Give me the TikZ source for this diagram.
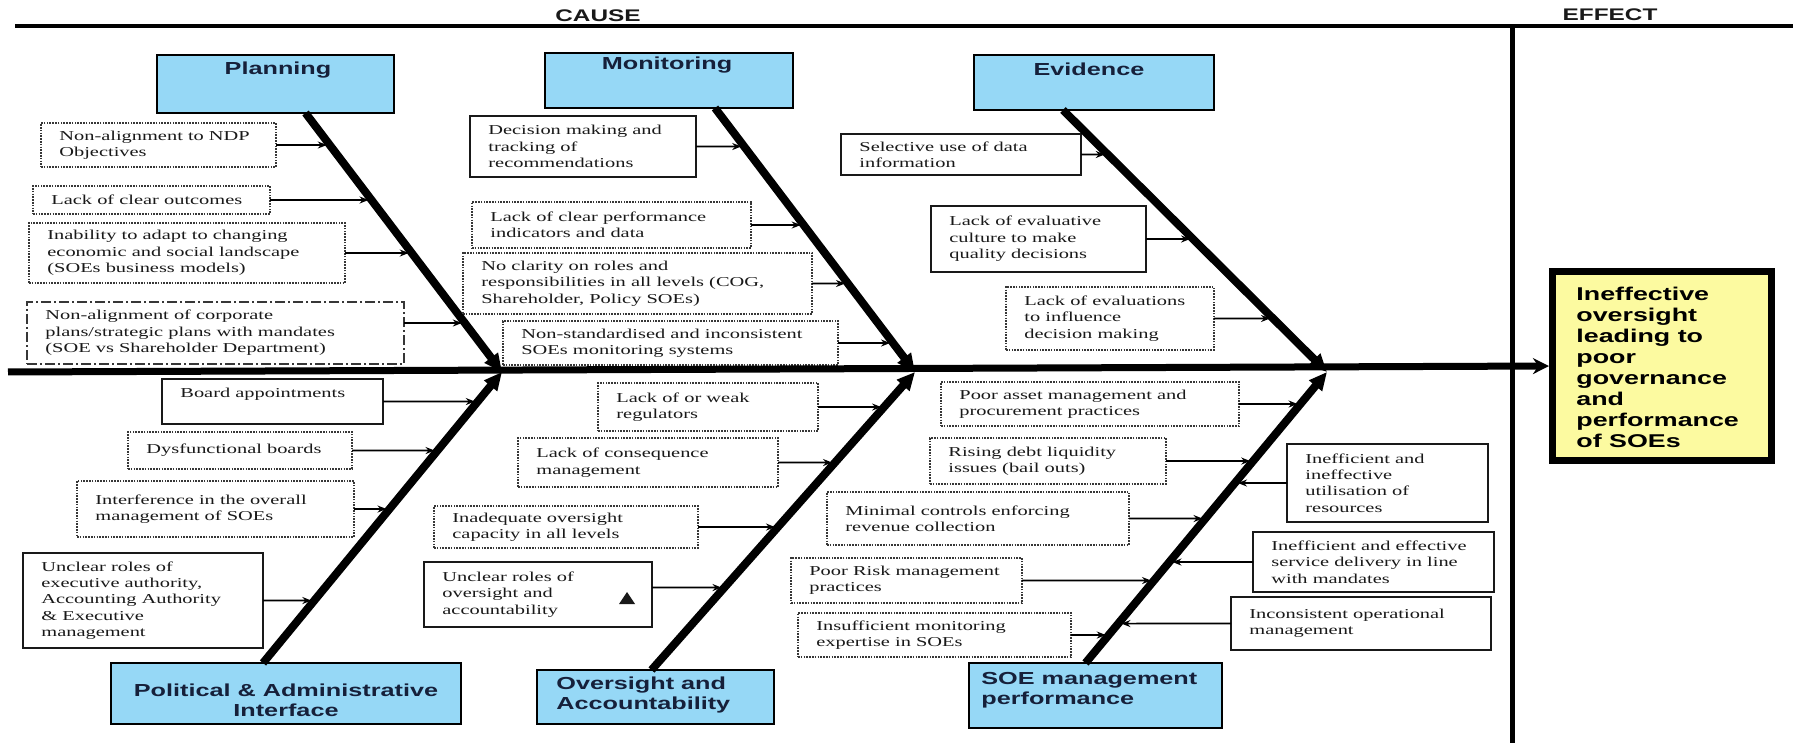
\documentclass[tikz,border=0pt]{standalone}
\usepackage{fontspec}
\setmainfont{Liberation Serif}[FakeStretch=1.5]
\newfontfamily\headfont{Liberation Sans}[FakeStretch=1.45]
\usetikzlibrary{arrows.meta,calc}

\definecolor{catblue}{RGB}{150,216,246}
\definecolor{effyellow}{RGB}{252,250,160}
\definecolor{catink}{RGB}{22,32,58}
\definecolor{boxink}{RGB}{25,25,25}
\definecolor{dotink}{RGB}{55,55,55}

\tikzset{
  itxt/.style={font=\fontsize{6.8pt}{8.2pt}\selectfont, text=boxink, align=left, inner sep=0pt},
  solidbox/.style={draw=boxink, line width=0.9pt, fill=white, inner sep=0pt, outer sep=0pt},
  dotbox/.style={draw=dotink, line width=1.1pt, dash pattern=on 0.8pt off 0.6pt, fill=white, inner sep=0pt, outer sep=0pt},
  dashbox/.style={draw=dotink, line width=1pt, dash pattern=on 5pt off 1.5pt on 1pt off 1.5pt, fill=white, inner sep=0pt, outer sep=0pt},
  catbox/.style={draw=black, line width=1.2pt, fill=catblue, inner sep=0pt, outer sep=0pt},
  effbox/.style={draw=black, line width=3.5pt, fill=effyellow, inner sep=0pt, outer sep=0pt},
  cattxt/.style={font=\headfont\bfseries\fontsize{8.7pt}{9.8pt}\selectfont, text=catink, align=left, inner sep=0pt},
  efftxt/.style={font=\headfont\bfseries\fontsize{9.25pt}{10.5pt}\selectfont, text=black, align=left, inner sep=0pt},
  hdr/.style={font=\headfont\bfseries\fontsize{8.4pt}{10pt}\selectfont, text=boxink, inner sep=0pt},
  bone/.style={line width=4pt, -{Triangle[length=9pt,width=8pt]}},
  feed/.style={line width=0.8pt, -{Stealth[length=4.5pt,width=3.5pt]}, shorten >=1.5pt},
  spine/.style={line width=3.5pt, -{Stealth[length=8pt,width=8pt]}, shorten >=1.5pt},
  frame/.style={line width=2pt},
}

% empty box given by its top-left and bottom-right corners (pixel units)
\newcommand\boxat[6]{%
  \pgfmathsetmacro\bw{(#4-#2)*0.5}%
  \pgfmathsetmacro\bh{(#5-#3)*0.5}%
  \node[#6, minimum width=\bw pt, minimum height=\bh pt, anchor=north west] (#1) at (#2,#3) {};}
% cause box with its left-aligned text
\newcommand\itembox[7]{%
  \boxat{#1}{#2}{#3}{#4}{#5}{#6}%
  \node[itxt, anchor=west] (#1t) at ([xshift=9pt]#1.west) {#7};}
% horizontal feeder from a box side to a bone
\newcommand\feedL[2]{\draw[feed] (#1.east) -- (intersection of #1.east--#1.west and #2);}
\newcommand\feedR[2]{\draw[feed] (#1.west) -- (intersection of #1.west--#1.east and #2);}

\begin{document}
\begin{tikzpicture}[x=0.5pt, y=-0.5pt]
\useasboundingbox (0,0) rectangle (1795,743);
\fill[white] (0,0) rectangle (1795,743);

% frame: header rule and cause/effect divider
\draw[frame] (15,26) -- (1793,26);
\draw[line width=2.5pt] (1512,26) -- (1512,743);
\node[hdr] (cause) at (598,16) {CAUSE};
\node[hdr] (effect) at (1610,15) {EFFECT};

% category boxes
\boxat{plan}{157}{55}{394}{113}{catbox}
\node[cattxt] (plant) at (278,70) {Planning};
\boxat{mon}{545}{53}{793}{108}{catbox}
\node[cattxt] (mont) at (667,65) {Monitoring};
\boxat{evid}{974}{55}{1214}{110}{catbox}
\node[cattxt] (evidt) at (1089,69) {Evidence};
\boxat{pol}{111}{663}{461}{724}{catbox}
\node[cattxt, align=center] (polt) at (286,700) {Political \& Administrative\\Interface};
\boxat{ovs}{537}{670}{774}{724}{catbox}
\node[cattxt, anchor=west] (ovst) at (556,695) {Oversight and\\Accountability};
\boxat{soe}{969}{663}{1222}{728}{catbox}
\node[cattxt, anchor=west] (soet) at (981,690) {SOE management\\performance};

% effect box
\boxat{eff}{1552}{272}{1771}{460}{effbox}
\node[efftxt, anchor=west] (efft) at (1576,367) {Ineffective\\oversight\\leading to\\poor\\governance\\and\\performance\\of SOEs};

% bone end points
\coordinate (j1) at (502,372);
\coordinate (j2) at (915,372);
\coordinate (j3) at (1327,372);
\coordinate (p1) at ([xshift=15pt]plan.south);
\coordinate (p2) at ([xshift=23pt]mon.south);
\coordinate (p3) at ([xshift=-15.5pt]evid.south);
\coordinate (q1) at ([xshift=-11.5pt]pol.north);
\coordinate (q2) at ([xshift=-2pt]ovs.north);
\coordinate (q3) at ([xshift=-5pt]soe.north);
\coordinate (s0) at (8,372);

% Planning causes
\itembox{a1}{41}{123}{276}{167}{dotbox}{Non-alignment to NDP\\Objectives}
\itembox{a2}{33}{186}{270}{214}{dotbox}{Lack of clear outcomes}
\itembox{a3}{29}{223}{345}{283}{dotbox}{Inability to adapt to changing\\economic and social landscape\\(SOEs business models)}
\itembox{a4}{27}{302}{404}{364}{dashbox}{Non-alignment of corporate\\plans/strategic plans with mandates\\(SOE vs Shareholder Department)}

% Political & Administrative causes
\boxat{b1}{162}{379}{383}{424}{solidbox}
\node[itxt, anchor=west] (b1t) at ([xshift=9pt,yshift=3.75pt]b1.west) {Board appointments};
\itembox{b2}{128}{432}{352}{469}{dotbox}{Dysfunctional boards}
\itembox{b3}{77}{481}{354}{537}{dotbox}{Interference in the overall\\management of SOEs}
\itembox{b4}{23}{553}{263}{648}{solidbox}{Unclear roles of\\executive authority,\\Accounting Authority\\\& Executive\\management}

% Monitoring causes
\itembox{c1}{470}{116}{696}{177}{solidbox}{Decision making and\\tracking of\\recommendations}
\itembox{c2}{472}{202}{751}{248}{dotbox}{Lack of clear performance\\indicators and data}
\itembox{c3}{463}{253}{812}{314}{dotbox}{No clarity on roles and\\responsibilities in all levels (COG,\\Shareholder, Policy SOEs)}
\itembox{c4}{503}{321}{838}{365}{dotbox}{Non-standardised and inconsistent\\SOEs monitoring systems}

% Oversight and Accountability causes
\itembox{d1}{598}{383}{818}{431}{dotbox}{Lack of or weak\\regulators}
\itembox{d2}{518}{438}{778}{487}{dotbox}{Lack of consequence\\management}
\itembox{d3}{434}{506}{698}{548}{dotbox}{Inadequate oversight\\capacity in all levels}
\itembox{d4}{424}{562}{652}{627}{solidbox}{Unclear roles of\\oversight and\\accountability}
\fill[boxink] (619,604) -- (635,604) -- (627,592) -- cycle;

% Evidence causes
\itembox{e1}{841}{134}{1081}{175}{solidbox}{Selective use of data\\information}
\itembox{e2}{931}{206}{1146}{272}{solidbox}{Lack of evaluative\\culture to make\\quality decisions}
\itembox{e3}{1006}{287}{1214}{350}{dotbox}{Lack of evaluations\\to influence\\decision making}

% SOE management performance causes
\itembox{f1}{941}{382}{1239}{426}{dotbox}{Poor asset management and\\procurement practices}
\itembox{f2}{930}{438}{1166}{484}{dotbox}{Rising debt liquidity\\issues (bail outs)}
\itembox{f3}{827}{492}{1129}{545}{dotbox}{Minimal controls enforcing\\revenue collection}
\itembox{f4}{791}{558}{1022}{603}{dotbox}{Poor Risk management\\practices}
\itembox{f5}{798}{613}{1071}{657}{dotbox}{Insufficient monitoring\\expertise in SOEs}
\itembox{r1}{1287}{444}{1488}{522}{solidbox}{Inefficient and\\ineffective\\utilisation of\\resources}
\itembox{r2}{1253}{532}{1494}{592}{solidbox}{Inefficient and effective\\service delivery in line\\with mandates}
\itembox{r3}{1231}{597}{1491}{650}{solidbox}{Inconsistent operational\\management}

% feeders into the bones
\feedL{a1}{p1--j1}
\feedL{a2}{p1--j1}
\feedL{a3}{p1--j1}
\coordinate (a4e) at ([yshift=5pt]a4.east);
\coordinate (a4w) at ([yshift=5pt]a4.west);
\draw[feed] (a4e) -- (intersection of a4e--a4w and p1--j1);
\feedL{b1}{q1--j1}
\feedL{b2}{q1--j1}
\feedL{b3}{q1--j1}
\feedL{b4}{q1--j1}
\feedL{c1}{p2--j2}
\feedL{c2}{p2--j2}
\feedL{c3}{p2--j2}
\feedL{c4}{p2--j2}
\feedL{d1}{q2--j2}
\feedL{d2}{q2--j2}
\feedL{d3}{q2--j2}
\coordinate (d4e) at ([yshift=3.5pt]d4.east);
\coordinate (d4w) at ([yshift=3.5pt]d4.west);
\draw[feed] (d4e) -- (intersection of d4e--d4w and q2--j2);
\feedL{e1}{p3--j3}
\feedL{e2}{p3--j3}
\feedL{e3}{p3--j3}
\feedL{f1}{q3--j3}
\feedL{f2}{q3--j3}
\feedL{f3}{q3--j3}
\feedL{f4}{q3--j3}
\feedL{f5}{q3--j3}
\feedR{r1}{q3--j3}
\feedR{r2}{q3--j3}
\feedR{r3}{q3--j3}

% bones
\draw[bone] (p1) -- (j1);
\draw[bone] (q1) -- (j1);
\draw[bone] (p2) -- (j2);
\draw[bone] (q2) -- (j2);
\draw[bone] (p3) -- (j3);
\draw[bone] (q3) -- (j3);

% spine to the effect
\draw[spine] (s0) -- (eff.west);
\end{tikzpicture}
\end{document}
